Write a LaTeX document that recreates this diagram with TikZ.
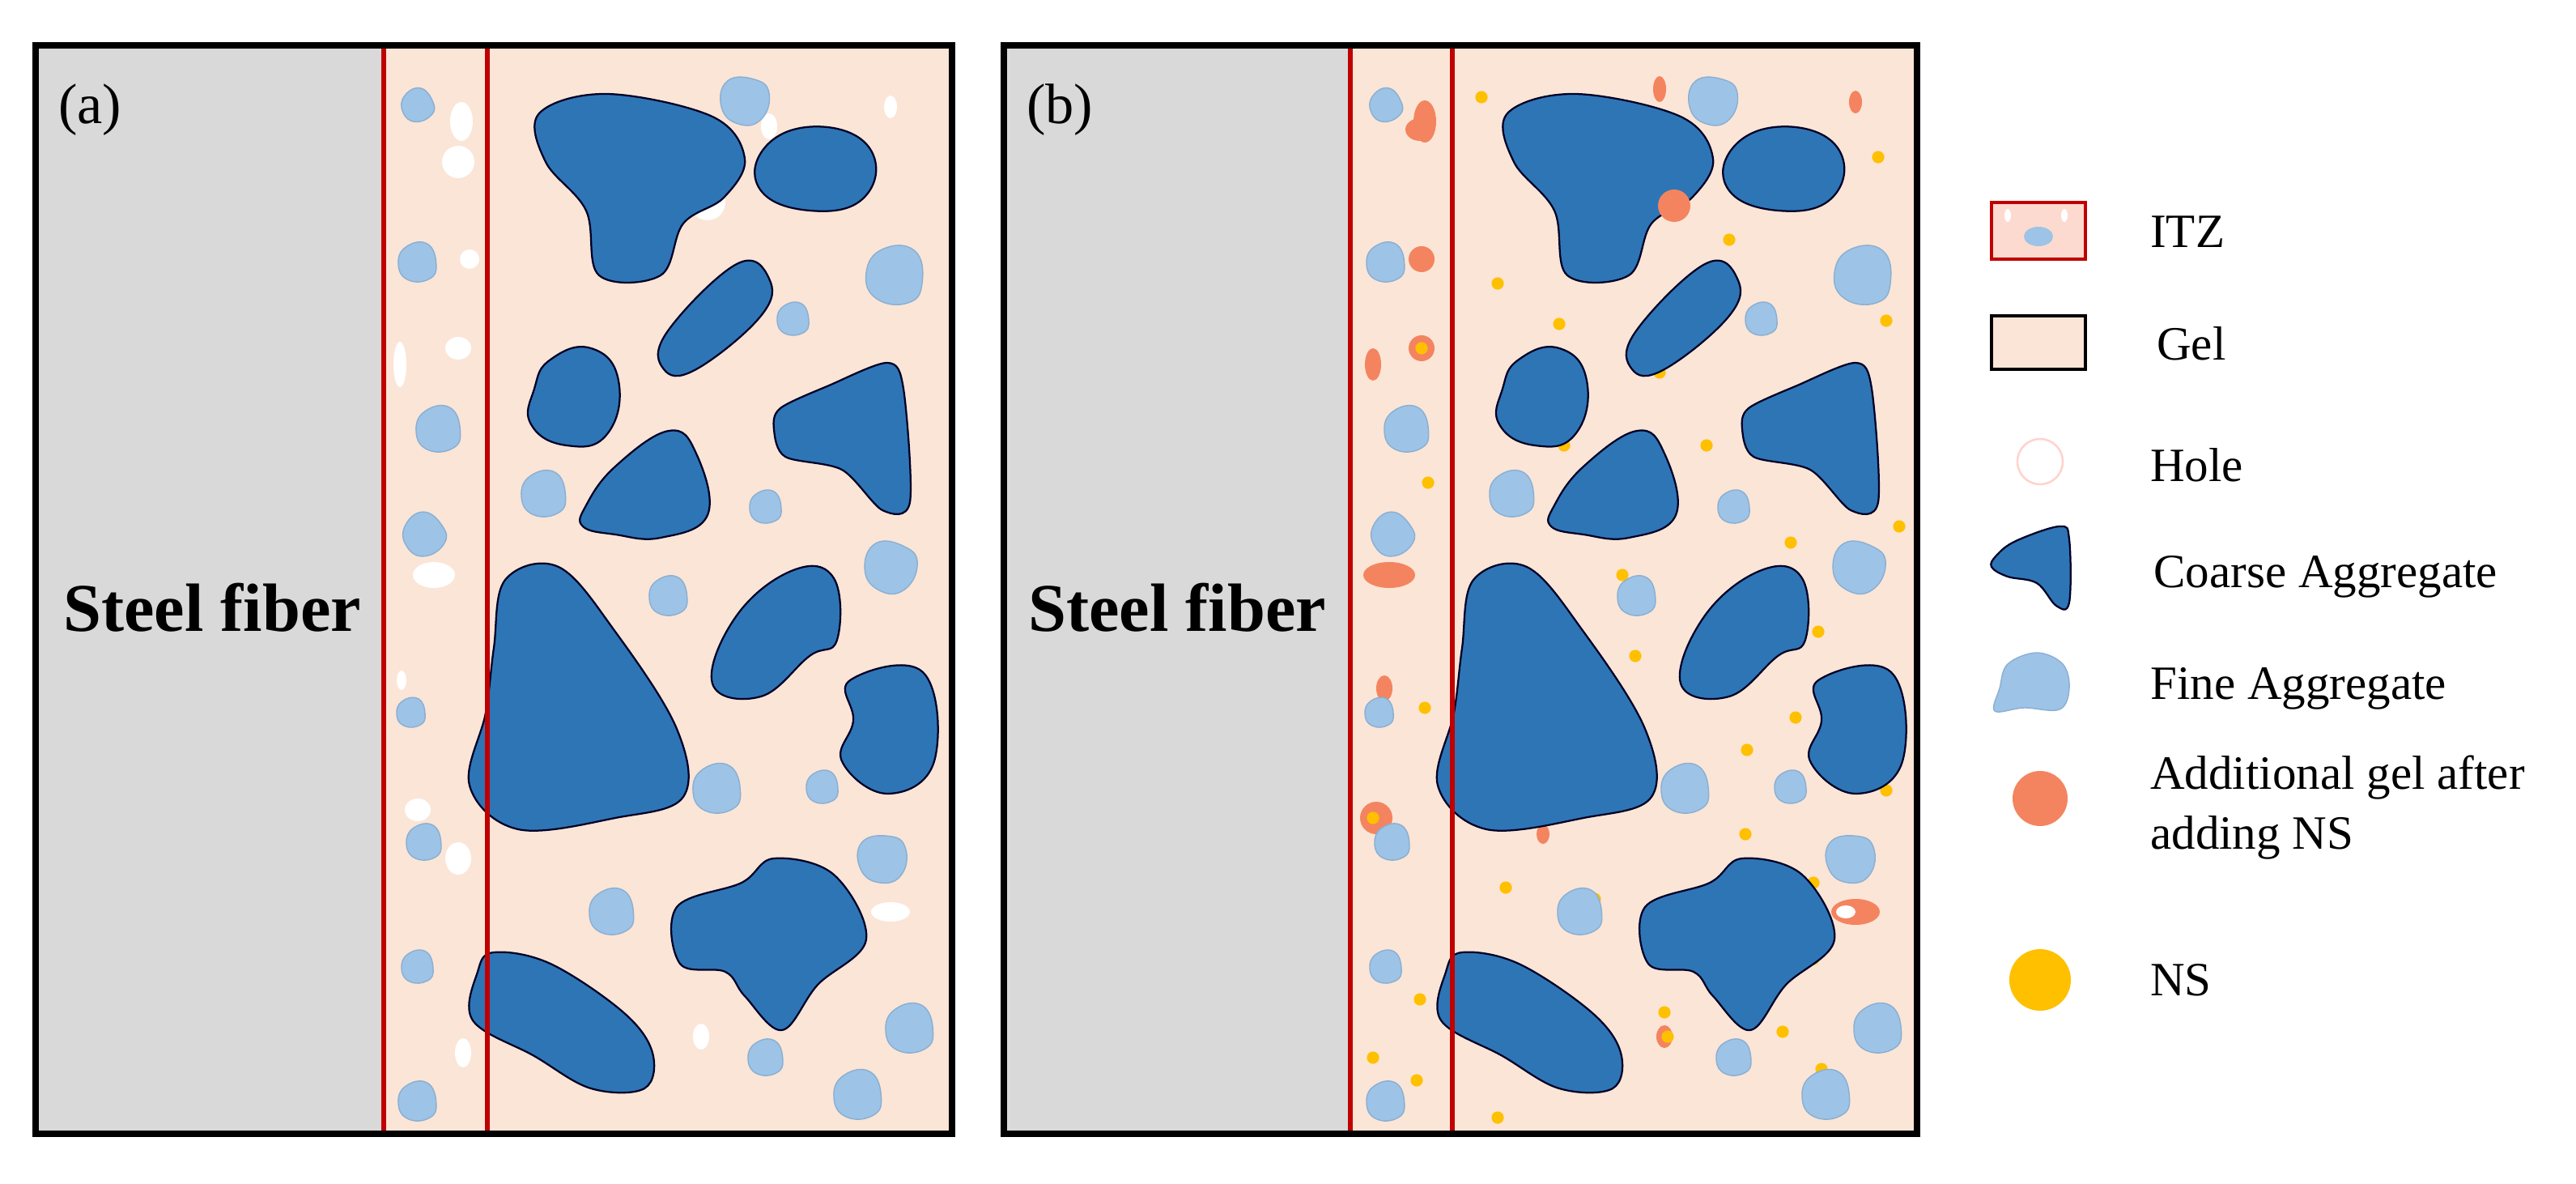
\documentclass[tikz,border=0pt]{standalone}
\usepackage{fontspec}
\setmainfont{Liberation Serif}
\begin{document}
\definecolor{gel}{HTML}{FBE5D6}
\definecolor{fib}{HTML}{D9D9D9}
\definecolor{coarse}{HTML}{2E75B6}
\definecolor{fine}{HTML}{9DC3E6}
\definecolor{fineedge}{HTML}{8AAFD3}
\definecolor{itz}{HTML}{C00000}
\definecolor{addgel}{HTML}{F4845F}
\definecolor{ns}{HTML}{FFC000}
\newcommand\fagg[4][0]{\draw[fineagg,rotate around={#1:(#2,#3)}] plot[smooth cycle,tension=.8] coordinates {({#2+0.95*#4},{#3+0.1*#4}) ({#2+0.6*#4},{#3+0.85*#4}) ({#2-0.5*#4},{#3+0.9*#4}) ({#2-1*#4},{#3+0.1*#4}) ({#2-0.6*#4},{#3-0.8*#4}) ({#2+0.5*#4},{#3-0.95*#4})};}
\newcommand\hole[4]{\fill[white] (#1,#2) ellipse[x radius=#3,y radius=#4];}
\newcommand\nsdot[2]{\fill[ns] (#1,#2) circle[radius=3.8];}
\newcommand\ag[4]{\fill[addgel] (#1,#2) ellipse[x radius=#3,y radius=#4];}
\newcommand\coarseset{%
\draw[cagg] plot[smooth cycle,tension=.6] coordinates {(333,70) (375,58) (440,72) (460,98) (447,122) (422,138) (408,170) (370,170) (362,130) (337,100)};
\draw[cagg] plot[smooth cycle,tension=.7] coordinates {(468,98) (490,80) (525,82) (541,102) (530,125) (500,130) (472,120)};
\draw[cagg] plot[smooth cycle,tension=.7] coordinates {(455,163) (475,172) (470,195) (430,228) (410,228) (412,205)};
\draw[cagg] plot[smooth cycle,tension=.8] coordinates {(340,222) (365,215) (382,235) (375,268) (350,275) (328,262) (330,240)};
\draw[cagg] plot[smooth cycle,tension=.5] coordinates {(482,252) (512,238) (548,224) (558,240) (562,310) (545,315) (520,290) (485,282) (478,265)};
\draw[cagg] plot[smooth cycle,tension=.7] coordinates {(362,312) (380,288) (413,266) (430,280) (437,318) (408,332) (380,330) (360,325)};
\draw[cagg] plot[smooth cycle,tension=.6] coordinates {(312,358) (345,350) (380,390) (418,450) (422,492) (380,505) (320,512) (290,485) (300,440) (305,400)};
\draw[cagg] plot[smooth cycle,tension=.7] coordinates {(440,422) (455,380) (490,352) (515,357) (517,395) (500,405) (470,430)};
\draw[cagg] plot[smooth cycle,tension=.7] coordinates {(525,420) (570,415) (577,470) (548,490) (520,470) (527,445)};
\draw[cagg] plot[smooth cycle,tension=.6] coordinates {(418,560) (458,545) (478,530) (515,540) (535,580) (505,608) (483,636) (460,615) (448,600) (420,595)};
\draw[cagg] plot[smooth cycle,tension=.6] coordinates {(295,600) (305,588) (340,595) (385,625) (403,650) (398,672) (365,672) (330,652) (292,630)};
}
\newcommand\fineset{%
\fagg[20]{258}{65}{10}\fagg{258}{162}{12}\fagg{271}{265}{14}\fagg[30]{262}{330}{13}\fagg{254}{440}{9}\fagg{262}{520}{11}\fagg{258}{597}{10}\fagg{258}{680}{12}
\fagg[70]{460}{62}{15}\fagg[-10]{553}{170}{18}\fagg{490}{197}{10}\fagg{336}{305}{14}\fagg{473}{313}{10}\fagg{413}{368}{12}\fagg[60]{550}{350}{16}
\fagg{443}{487}{15}\fagg{508}{486}{10}\fagg[80]{545}{530}{15}\fagg{378}{563}{14}\fagg{562}{635}{15}\fagg{473}{653}{11}\fagg{530}{676}{15}
}
\begin{tikzpicture}[x=0.5mm,y=-0.5mm,
 cagg/.style={fill=coarse,draw=black!85!blue,line width=1.6pt},
 fineagg/.style={fill=fine,draw=fineedge,line width=1pt},
 lbl/.style={anchor=west,font=\fontsize{42}{46}\selectfont,inner sep=0pt}]
\useasboundingbox (0,0) rectangle (1591,731);
\fill[white] (0,0) rectangle (1591,731);
% ---------- panel (a)
\fill[gel] (22,28) rectangle (588,700);
\fill[fib] (22,28) rectangle (237,700);
\hole{285}{75}{7}{12}\hole{283}{100}{10}{10}\hole{437}{125}{11}{11}\hole{475}{78}{5}{8}\hole{550}{66}{4}{7}\hole{290}{160}{6}{6}\hole{283}{215}{8}{7}\hole{247}{225}{4}{14}\hole{268}{355}{13}{8}\hole{258}{500}{8}{7}\hole{283}{530}{8}{10}\hole{286}{650}{5}{9}\hole{433}{640}{5}{8}\hole{550}{563}{12}{6}\hole{248}{420}{3}{6}
\coarseset
\fineset
\draw[itz,line width=4.5pt] (237,28) rectangle (301,700);
\draw[black,line width=6pt] (22,28) rectangle (588,700);
\node[lbl,font=\fontsize{50}{54}\selectfont] (la) at (36,68) {(a)};
\node[anchor=center,font=\bfseries\fontsize{60}{64}\selectfont] (sa) at (131,375) {Steel fiber};
% ---------- panel (b)
\begin{scope}[xshift=299mm]
\fill[gel] (22,28) rectangle (588,700);
\fill[fib] (22,28) rectangle (237,700);
\end{scope}
\ag{880}{75}{7}{13}\ag{877}{80}{9}{7}\ag{1025}{55}{4}{8}\ag{1146}{63}{4}{7}\ag{878}{160}{8}{8}\ag{878}{215}{8}{8}\ag{848}{225}{5}{10}\ag{858}{355}{16}{8}\ag{855}{425}{5}{8}\ag{850}{505}{10}{10}\ag{953}{515}{4}{6}\ag{1146}{563}{15}{8}\ag{1028}{640}{5}{7}
\hole{1140}{563}{6}{4}
\nsdot{915}{60}\nsdot{1000}{70}\nsdot{1160}{97}\nsdot{1068}{148}\nsdot{925}{175}\nsdot{1165}{198}\nsdot{963}{200}\nsdot{1025}{230}\nsdot{966}{275}\nsdot{1054}{275}\nsdot{1132}{262}\nsdot{882}{298}\nsdot{1173}{325}\nsdot{1106}{335}\nsdot{1002}{355}\nsdot{1123}{390}\nsdot{1010}{405}\nsdot{880}{437}\nsdot{1109}{443}\nsdot{1079}{463}\nsdot{1165}{488}\nsdot{1078}{515}\nsdot{930}{548}\nsdot{1120}{545}\nsdot{985}{555}\nsdot{877}{617}\nsdot{1101}{637}\nsdot{848}{653}\nsdot{1028}{625}\nsdot{875}{667}\nsdot{925}{690}\nsdot{1120}{592}\nsdot{878}{215}\nsdot{848}{505}\nsdot{1030}{640}\nsdot{970}{480}\nsdot{1125}{660}
\begin{scope}[xshift=299mm]
\coarseset
\fineset
\end{scope}
\ag{1034}{127}{10}{10}
\draw[itz,line width=4.5pt] (834,28) rectangle (897,700);
\draw[black,line width=6pt] (620,28) rectangle (1184,700);
\node[lbl,font=\fontsize{50}{54}\selectfont] (lb) at (634,68) {(b)};
\node[anchor=center,font=\bfseries\fontsize{60}{64}\selectfont] (sb) at (727,375) {Steel fiber};
% ---------- legend
\fill[gel!70!pink] (1230,125) rectangle (1288,160);
\fill[fine] (1259,146) ellipse[x radius=9,y radius=6];
\fill[white] (1240,133) ellipse[x radius=2,y radius=4];\fill[white] (1275,133) ellipse[x radius=2,y radius=4];
\draw[itz,line width=3.5pt] (1230,125) rectangle (1288,160);
\node[lbl] (l1) at (1328,143) {ITZ};
\draw[fill=gel,line width=3.5pt] (1230,195) rectangle (1288,228);
\node[lbl] (l2) at (1332,212) {Gel};
\draw[gel!80!red!60,line width=1.8pt] (1260,285) circle[radius=14];
\node[lbl] (l3) at (1328,287) {Hole};
\draw[cagg] plot[smooth cycle,tension=.6] coordinates {(1233,343) (1245,334) (1272,325) (1278,333) (1278,372) (1270,374) (1258,360) (1240,356) (1230,350)};
\node[lbl] (l4) at (1330,356) {Coarse Aggregate};
\draw[fineagg] plot[smooth cycle,tension=.6] coordinates {(1240,410) (1258,403) (1274,410) (1278,425) (1272,438) (1250,437) (1232,439) (1235,425)};
\node[lbl] (l5) at (1328,425) {Fine Aggregate};
\fill[addgel] (1260,493) circle[radius=17];
\node[lbl] (l6) at (1328,480) {Additional gel after};
\node[lbl] (l7) at (1328,517) {adding NS};
\fill[ns] (1260,605) circle[radius=19];
\node[lbl] (l8) at (1328,605) {NS};
\end{tikzpicture}
\end{document}
